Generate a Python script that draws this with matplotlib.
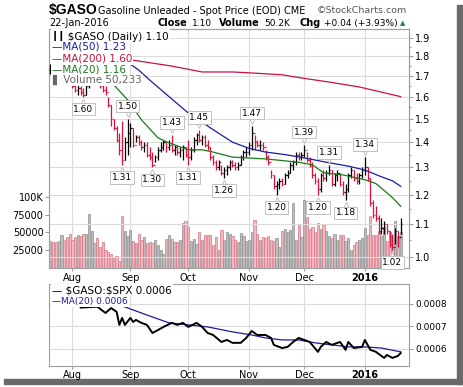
import numpy as np
import pandas as pd
import matplotlib
matplotlib.use('Agg')
import matplotlib.pyplot as plt
from matplotlib.patches import Rectangle
from matplotlib.transforms import offset_copy
from matplotlib.ticker import FixedLocator, NullFormatter, FormatStrFormatter

# trading days shown on the chart
holidays = ['2015-09-07', '2015-11-26', '2015-12-25', '2016-01-01', '2016-01-18']
dates = pd.bdate_range('2015-07-22', '2016-01-22', freq='C', holidays=holidays)

highs = [1.76, 1.74, 1.72, 1.70, 1.73, 1.75, 1.72, 1.70, 1.69, 1.67, 1.66, 1.65, 1.64, 1.66, 1.70, 1.72,
         1.73, 1.72, 1.69, 1.67, 1.65, 1.60, 1.56, 1.50, 1.47, 1.44, 1.49, 1.42, 1.50, 1.48, 1.46, 1.43,
         1.43, 1.41, 1.40, 1.40, 1.38, 1.36, 1.35, 1.38, 1.40, 1.41, 1.40, 1.41, 1.43, 1.39, 1.39, 1.38,
         1.39, 1.38, 1.41, 1.38, 1.42, 1.44, 1.45, 1.43, 1.43, 1.41, 1.38, 1.35, 1.33, 1.33, 1.31, 1.30,
         1.31, 1.33, 1.33, 1.32, 1.32, 1.35, 1.37, 1.38, 1.40, 1.47, 1.43, 1.41, 1.41, 1.40, 1.37, 1.35,
         1.29, 1.27, 1.25, 1.26, 1.26, 1.28, 1.29, 1.32, 1.33, 1.36, 1.36, 1.36, 1.39, 1.36, 1.34, 1.32,
         1.28, 1.26, 1.28, 1.29, 1.29, 1.31, 1.29, 1.28, 1.29, 1.28, 1.25, 1.24, 1.28, 1.30, 1.29, 1.28,
         1.28, 1.30, 1.34, 1.30, 1.26, 1.18, 1.16, 1.13, 1.12, 1.11, 1.10, 1.08, 1.07, 1.09, 1.08, 1.12]
lows = [1.71, 1.69, 1.67, 1.66, 1.68, 1.70, 1.67, 1.66, 1.64, 1.62, 1.61, 1.61, 1.60, 1.61, 1.64, 1.67,
        1.68, 1.66, 1.64, 1.62, 1.61, 1.55, 1.47, 1.45, 1.40, 1.35, 1.31, 1.33, 1.35, 1.38, 1.38, 1.40,
        1.39, 1.37, 1.36, 1.34, 1.33, 1.30, 1.32, 1.33, 1.36, 1.37, 1.36, 1.37, 1.36, 1.35, 1.35, 1.34,
        1.33, 1.34, 1.31, 1.33, 1.36, 1.39, 1.40, 1.39, 1.38, 1.37, 1.33, 1.31, 1.29, 1.29, 1.27, 1.26,
        1.27, 1.29, 1.30, 1.29, 1.29, 1.31, 1.33, 1.34, 1.35, 1.37, 1.37, 1.38, 1.37, 1.37, 1.33, 1.31,
        1.26, 1.22, 1.20, 1.22, 1.23, 1.24, 1.26, 1.28, 1.29, 1.31, 1.33, 1.33, 1.34, 1.32, 1.30, 1.26,
        1.24, 1.20, 1.21, 1.25, 1.25, 1.27, 1.23, 1.23, 1.25, 1.23, 1.20, 1.18, 1.21, 1.26, 1.25, 1.24,
        1.24, 1.26, 1.27, 1.25, 1.16, 1.12, 1.11, 1.07, 1.07, 1.07, 1.07, 1.03, 1.02, 1.04, 1.03, 1.07]
closes = [1.73, 1.70, 1.68, 1.69, 1.72, 1.71, 1.68, 1.67, 1.65, 1.63, 1.64, 1.62, 1.61, 1.65, 1.69, 1.70,
          1.71, 1.67, 1.65, 1.63, 1.62, 1.56, 1.50, 1.46, 1.41, 1.37, 1.33, 1.40, 1.44, 1.46, 1.39, 1.42,
          1.40, 1.38, 1.39, 1.35, 1.34, 1.31, 1.34, 1.37, 1.38, 1.40, 1.38, 1.39, 1.37, 1.38, 1.36, 1.37,
          1.38, 1.35, 1.34, 1.37, 1.41, 1.43, 1.41, 1.42, 1.39, 1.38, 1.34, 1.32, 1.30, 1.32, 1.28, 1.29,
          1.30, 1.32, 1.31, 1.30, 1.31, 1.34, 1.36, 1.36, 1.39, 1.44, 1.40, 1.39, 1.39, 1.38, 1.34, 1.32,
          1.27, 1.23, 1.24, 1.25, 1.24, 1.27, 1.28, 1.31, 1.32, 1.35, 1.34, 1.35, 1.37, 1.33, 1.31, 1.27,
          1.25, 1.22, 1.27, 1.26, 1.28, 1.29, 1.24, 1.27, 1.28, 1.24, 1.21, 1.22, 1.27, 1.29, 1.26, 1.25,
          1.27, 1.29, 1.30, 1.26, 1.17, 1.13, 1.12, 1.08, 1.09, 1.10, 1.08, 1.04, 1.03, 1.08, 1.06, 1.10]
volume = [38000, 36000, 36000, 38000, 46000, 40000, 43000, 48000, 40000, 43000, 46000, 45000, 48000, 48000,
          76000, 52000, 35000, 42000, 30000, 36000, 26000, 22000, 20000, 15000, 17000, 10000, 73000, 52000,
          45000, 53000, 38000, 35000, 48000, 40000, 43000, 35000, 37000, 35000, 40000, 33000, 25000, 19000,
          41000, 47000, 41000, 37000, 37000, 40000, 63000, 66000, 57000, 38000, 41000, 34000, 50000, 40000,
          47000, 47000, 47000, 33000, 44000, 26000, 53000, 40000, 51000, 48000, 45000, 40000, 36000, 49000,
          45000, 38000, 40000, 50000, 68000, 48000, 40000, 44000, 42000, 45000, 40000, 38000, 42000, 30000,
          52000, 55000, 50000, 53000, 92000, 40000, 60000, 44000, 96000, 72000, 55000, 58000, 50000, 63000,
          55000, 60000, 52000, 45000, 42000, 48000, 40000, 47000, 46000, 38000, 42000, 25000, 32000, 37000,
          40000, 42000, 56000, 46000, 73000, 46000, 46000, 52000, 45000, 57000, 38000, 50000, 45000, 66000,
          45000, 50233]

# moving averages (trading-day index, value)
ma50_idx = [27, 32, 36, 43, 50, 58, 66, 72, 78, 85, 92, 100, 108, 114, 120, 124, 127]
ma50_val = [1.78, 1.73, 1.68, 1.60, 1.525, 1.46, 1.40, 1.375, 1.36, 1.35, 1.337, 1.32, 1.305, 1.29,
            1.265, 1.25, 1.23]
ma200_idx = [20, 27, 44, 55, 66, 73, 84, 91, 101, 112, 127]
ma200_val = [1.80, 1.787, 1.75, 1.72, 1.72, 1.715, 1.706, 1.69, 1.67, 1.646, 1.60]
ma20_idx = [23, 28, 33, 39, 43, 50, 55, 59, 66, 78, 90, 95, 99, 106, 114, 118, 121, 124, 127]
ma20_val = [1.656, 1.585, 1.495, 1.418, 1.397, 1.369, 1.369, 1.36, 1.34, 1.333, 1.32, 1.31, 1.28,
            1.272, 1.254, 1.24, 1.215, 1.19, 1.16]

# labelled swing highs / lows
peak_idx = [12, 28, 26, 37, 44, 50, 54, 63, 73, 82, 92, 97, 101, 107, 114, 124]
peak_val = [1.60, 1.50, 1.31, 1.30, 1.43, 1.31, 1.45, 1.26, 1.47, 1.20, 1.39, 1.20, 1.31, 1.18, 1.34, 1.02]
peak_up = [False, True, False, False, True, False, True, False, True, False, True, False, True, False,
           True, False]

# $GASO:$SPX ratio panel
ratio_idx = [11, 17, 20, 22, 24, 25, 26, 27, 29, 30, 31, 33, 35, 37, 39, 41, 44, 46, 48, 50, 53, 55,
             57, 59, 62, 64, 66, 69, 71, 73, 75, 78, 80, 81, 84, 86, 88, 90, 92, 94, 97, 98, 100, 102,
             105, 107, 108, 110, 113, 114, 116, 118, 121, 122, 124, 126, 127]
ratio_val = [0.000784, 0.000788, 0.000760, 0.000782, 0.000765, 0.000707, 0.000738, 0.000707,
             0.000738, 0.000720, 0.000729, 0.000716, 0.000707, 0.000671, 0.000684, 0.000698, 0.000716,
             0.000707, 0.000716, 0.000698, 0.000716, 0.000698, 0.000671, 0.000662, 0.000631, 0.000640,
             0.000627, 0.000627, 0.000649, 0.000680, 0.000662, 0.000662, 0.000649, 0.000618, 0.000604,
             0.000609, 0.000631, 0.000649, 0.000640, 0.000631, 0.000587, 0.000609, 0.000631, 0.000618,
             0.000631, 0.000596, 0.000631, 0.000604, 0.000609, 0.000640, 0.000596, 0.000587, 0.000560,
             0.000573, 0.000560, 0.000569, 0.000582]
rma_idx = [22, 27, 35, 43, 50, 57, 66, 73, 78, 84, 90, 96, 102, 108, 114, 120, 127]
rma_val = [0.000800, 0.000787, 0.000751, 0.000716, 0.000707, 0.000698, 0.000676, 0.000662, 0.000649,
           0.000640, 0.000640, 0.000627, 0.000618, 0.000609, 0.000609, 0.000604, 0.000587]

price_ticks = [1.0, 1.1, 1.2, 1.3, 1.4, 1.5, 1.6, 1.7, 1.8, 1.9]
vol_ticks = [25000, 50000, 75000, 100000]
vol_labels = ['25000', '50000', '75000', '100K']
ratio_ticks = [0.0006, 0.0007, 0.0008]

RED = '#e0103c'
BLUE = '#1c1ca0'
CRIMSON = '#cc1040'
GREEN = '#1a7a1a'
GRID = '#dcdcdc'
W, H = 464, 387


def fx(p):
    return p / W


def fy(p):
    return 1 - p / H


x = np.arange(len(dates))
closes_a = np.array(closes)
opens = np.r_[closes_a[0], closes_a[:-1]]
down = closes_a < opens
bar_cols = [RED if d else 'black' for d in down]

month_pos = [i for i in range(1, len(dates)) if dates[i].month != dates[i - 1].month]
month_lbl = [str(dates[i].year) if dates[i].month == 1 else dates[i].strftime('%b') for i in month_pos]

fig = plt.figure(figsize=(W / 100, H / 100), dpi=100)

# drop shadow around the chart
fig.patches.append(Rectangle((fx(457), fy(384)), fx(5), 379 / H, transform=fig.transFigure,
                             color='#6a6a6a', zorder=-5))
fig.patches.append(Rectangle((fx(4), fy(384)), fx(458), 5 / H, transform=fig.transFigure,
                             color='#6a6a6a', zorder=-5))

# main panel: volume underneath, price on top
axv = fig.add_axes([fx(49), fy(268), fx(360), 239 / H])
ax = axv.twinx()

for m in month_pos:
    axv.axvline(m, color=GRID, lw=0.8, zorder=0)
axv.bar(x, volume, width=0.8, color=['#f2b9c1' if d else '#bdbdbd' for d in down],
        edgecolor=['#d97584' if d else '#8e8e8e' for d in down], lw=0.5, zorder=2)
axv.set_xlim(-0.5, 130)
axv.set_ylim(0, 336000)
axv.set_yticks(vol_ticks)
axv.set_yticklabels(vol_labels)
axv.set_xticks(month_pos)
axv.set_xticklabels(month_lbl)
axv.get_xticklabels()[-1].set_fontweight('bold')
axv.tick_params(axis='y', length=3, width=0.6, color='#888888', labelsize=7, pad=1)
axv.tick_params(axis='x', length=2, width=0.6, color='#888888', labelsize=7, pad=1.5)

ax.set_yscale('log')
ax.set_ylim(0.968, 1.951)
for p in price_ticks:
    ax.axhline(p, color=GRID, lw=0.8, zorder=0)
ax.vlines(x, lows, highs, colors=bar_cols, lw=0.9, zorder=3)
ax.hlines(opens, x - 0.45, x, colors=bar_cols, lw=0.9, zorder=3)
ax.hlines(closes, x, x + 0.45, colors=bar_cols, lw=0.9, zorder=3)
ax.plot(ma200_idx, ma200_val, color=CRIMSON, lw=0.9, zorder=4)
ax.plot(ma50_idx, ma50_val, color=BLUE, lw=0.9, zorder=4)
ax.plot(ma20_idx, ma20_val, color=GREEN, lw=0.9, zorder=4)
ax.set_yticks(price_ticks)
ax.yaxis.set_major_formatter(FormatStrFormatter('%.1f'))
ax.yaxis.set_minor_locator(FixedLocator([p + 0.05 for p in price_ticks[:-1]]))
ax.yaxis.set_minor_formatter(NullFormatter())
ax.tick_params(axis='y', which='major', length=3, width=0.6, color='#888888', labelsize=7, pad=1.5)
ax.tick_params(axis='y', which='minor', length=1.5, width=0.6, color='#888888')

# value boxes with a small pointer tab towards the bar
for i, v, up in zip(peak_idx, peak_val, peak_up):
    sgn = 1 if up else -1
    ax.annotate(f'{v:.2f}', xy=(i, v), xytext=(0, 9 * sgn), textcoords='offset points',
                ha='center', va='center', fontsize=6.5, zorder=6,
                bbox=dict(boxstyle='square,pad=0.2', fc='white', ec='#c0c0c0', lw=0.7))
    tab = offset_copy(ax.transData, fig=fig, x=0, y=3.6 * sgn, units='points')
    ax.plot(i, v, marker='v' if up else '^', ms=4.5, mfc='white', mec='#c0c0c0', mew=0.7,
            transform=tab, zorder=5)

for s in list(ax.spines.values()) + list(axv.spines.values()):
    s.set_color('#a0a0a0')

leg = [('\u2503\u2503 \\$GASO (Daily) 1.10', 'black', 0.971),
       ('\u2014MA(50) 1.23', BLUE, 0.925),
       ('\u2014MA(200) 1.60', CRIMSON, 0.876),
       ('\u2014MA(20) 1.16', GREEN, 0.829),
       ('\u258c Volume 50,233', '#666666', 0.786)]
for t, c, yy in leg:
    ax.text(0.008, yy, t, transform=ax.transAxes, color=c, fontsize=7.5, va='center', ha='left', zorder=7,
            bbox=dict(boxstyle='square,pad=0.1', fc='white', ec='none'))

# ratio panel
ax3 = fig.add_axes([fx(49), fy(366), fx(360), 82 / H])
for m in month_pos:
    ax3.axvline(m, color=GRID, lw=0.8, zorder=0)
for r in ratio_ticks:
    ax3.axhline(r, color=GRID, lw=0.8, zorder=0)
ax3.plot(rma_idx, rma_val, color=BLUE, lw=0.9, zorder=3)
ax3.plot(ratio_idx, ratio_val, color='black', lw=1.4, zorder=4)
ax3.set_xlim(-0.5, 130)
ax3.set_ylim(0.000524, 0.000889)
ax3.yaxis.tick_right()
ax3.set_yticks(ratio_ticks)
ax3.yaxis.set_major_formatter(FormatStrFormatter('%.4f'))
ax3.set_xticks(month_pos)
ax3.set_xticklabels(month_lbl)
ax3.get_xticklabels()[-1].set_fontweight('bold')
ax3.tick_params(axis='y', length=3, width=0.6, color='#888888', labelsize=6.5, pad=1.5)
ax3.tick_params(axis='x', length=2, width=0.6, color='#888888', labelsize=7, pad=1)
for s in ax3.spines.values():
    s.set_color('#a0a0a0')
ax3.text(0.008, 0.925, '\u2014 \\$GASO:\\$SPX 0.0006', transform=ax3.transAxes, fontsize=7.5,
         va='center', zorder=7, bbox=dict(boxstyle='square,pad=0.1', fc='white', ec='none'))
ax3.text(0.008, 0.79, '\u2014MA(20) 0.0006', transform=ax3.transAxes, fontsize=6.5, color=BLUE,
         va='center', zorder=7, bbox=dict(boxstyle='square,pad=0.1', fc='white', ec='none'))

# header
fig.text(fx(49), fy(10), '\\$GASO', fontsize=10, fontweight='bold', family='Liberation Sans', va='center')
fig.text(fx(98), fy(10.5), 'Gasoline Unleaded - Spot Price (EOD) CME', fontsize=7, va='center')
fig.text(fx(407), fy(10.5), '\u00a9StockCharts.com', fontsize=6.8, color='#555555', va='center', ha='right')
fig.text(fx(49), fy(23.5), '22-Jan-2016', fontsize=7, va='center')
hdr = [(158, 'Close', 'bold'), (192, '1.10', 'normal'), (219, 'Volume', 'bold'), (264, '50.2K', 'normal'),
       (300, 'Chg', 'bold'), (324, '+0.04 (+3.93%)', 'normal')]
for px, t, w in hdr:
    fig.text(fx(px), fy(23.5), t, fontsize=7 if w == 'bold' else 6.5, fontweight=w, va='center')
fig.text(fx(403), fy(23), '\u25b2', fontsize=5, color='#2e7d32', va='center', ha='center')

fig.savefig('out.png', dpi=100)
